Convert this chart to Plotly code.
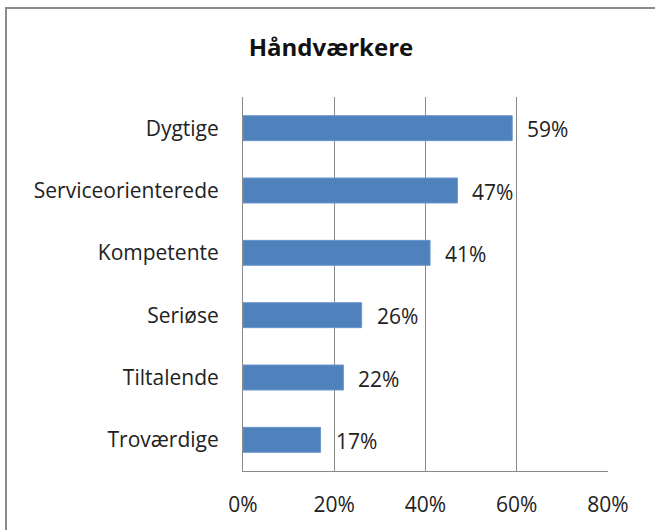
import plotly.graph_objects as go

categories = ["Dygtige", "Serviceorienterede", "Kompetente", "Seriøse", "Tiltalende", "Troværdige"]
values = [0.59, 0.47, 0.41, 0.26, 0.22, 0.17]
labels = ["59%", "47%", "41%", "26%", "22%", "17%"]
x_ticks = [0, 0.2, 0.4, 0.6, 0.8]
x_ticktext = ["0%", "20%", "40%", "60%", "80%"]

W, H = 655, 530
ML, MR, MT, MB = 243, 47, 97, 59
PW, PH = W - ML - MR, H - MT - MB

FONT = "Open Sans"
GRID = "#8a8a8a"

fig = go.Figure()
fig.add_trace(
    go.Bar(
        x=values,
        y=categories,
        orientation="h",
        marker=dict(color="#4f81bd", line=dict(color="#6a96cc", width=1)),
        width=0.4,
        hoverinfo="skip",
        showlegend=False,
    )
)
for cat, v, t in zip(categories, values, labels):
    fig.add_annotation(
        x=v, y=cat, text=t, showarrow=False,
        xanchor="left", xshift=13, yshift=-1,
        font=dict(family=FONT, size=21, color="#222"),
    )

# outer chart frame; right and bottom edges fall outside the picture
fig.add_shape(
    type="rect", xref="paper", yref="paper",
    x0=(6 - ML) / PW, x1=(W + 20 - ML) / PW,
    y0=-(MB + 20) / PH, y1=1 + (MT - 8) / PH,
    line=dict(color="#8c8c8c", width=2),
    layer="below",
)

fig.update_layout(
    width=W,
    height=H,
    margin=dict(l=ML, r=MR, t=MT, b=MB),
    paper_bgcolor="white",
    plot_bgcolor="white",
    title=dict(
        text="<b>Håndværkere</b>",
        x=331 / W, xanchor="center",
        y=1 - 48 / H, yanchor="middle",
        font=dict(family=FONT, size=24, color="#111"),
    ),
    font=dict(family=FONT, size=21, color="#222"),
)
fig.update_xaxes(
    range=[0, 0.8],
    tickvals=x_ticks,
    ticktext=x_ticktext,
    showgrid=True,
    gridcolor=GRID,
    gridwidth=1,
    showline=True,
    linecolor=GRID,
    linewidth=1,
    zeroline=False,
    ticks="outside",
    ticklen=15,
    tickcolor="rgba(0,0,0,0)",
    fixedrange=True,
)
fig.update_yaxes(
    autorange="reversed",
    showgrid=False,
    showline=True,
    linecolor=GRID,
    linewidth=1,
    ticks="outside",
    ticklen=19,
    tickcolor="rgba(0,0,0,0)",
    fixedrange=True,
)

fig.write_html(
    "out.html",
    config={"displayModeBar": False},
    post_script="document.body.style.margin='0';document.body.style.overflow='hidden';",
)
